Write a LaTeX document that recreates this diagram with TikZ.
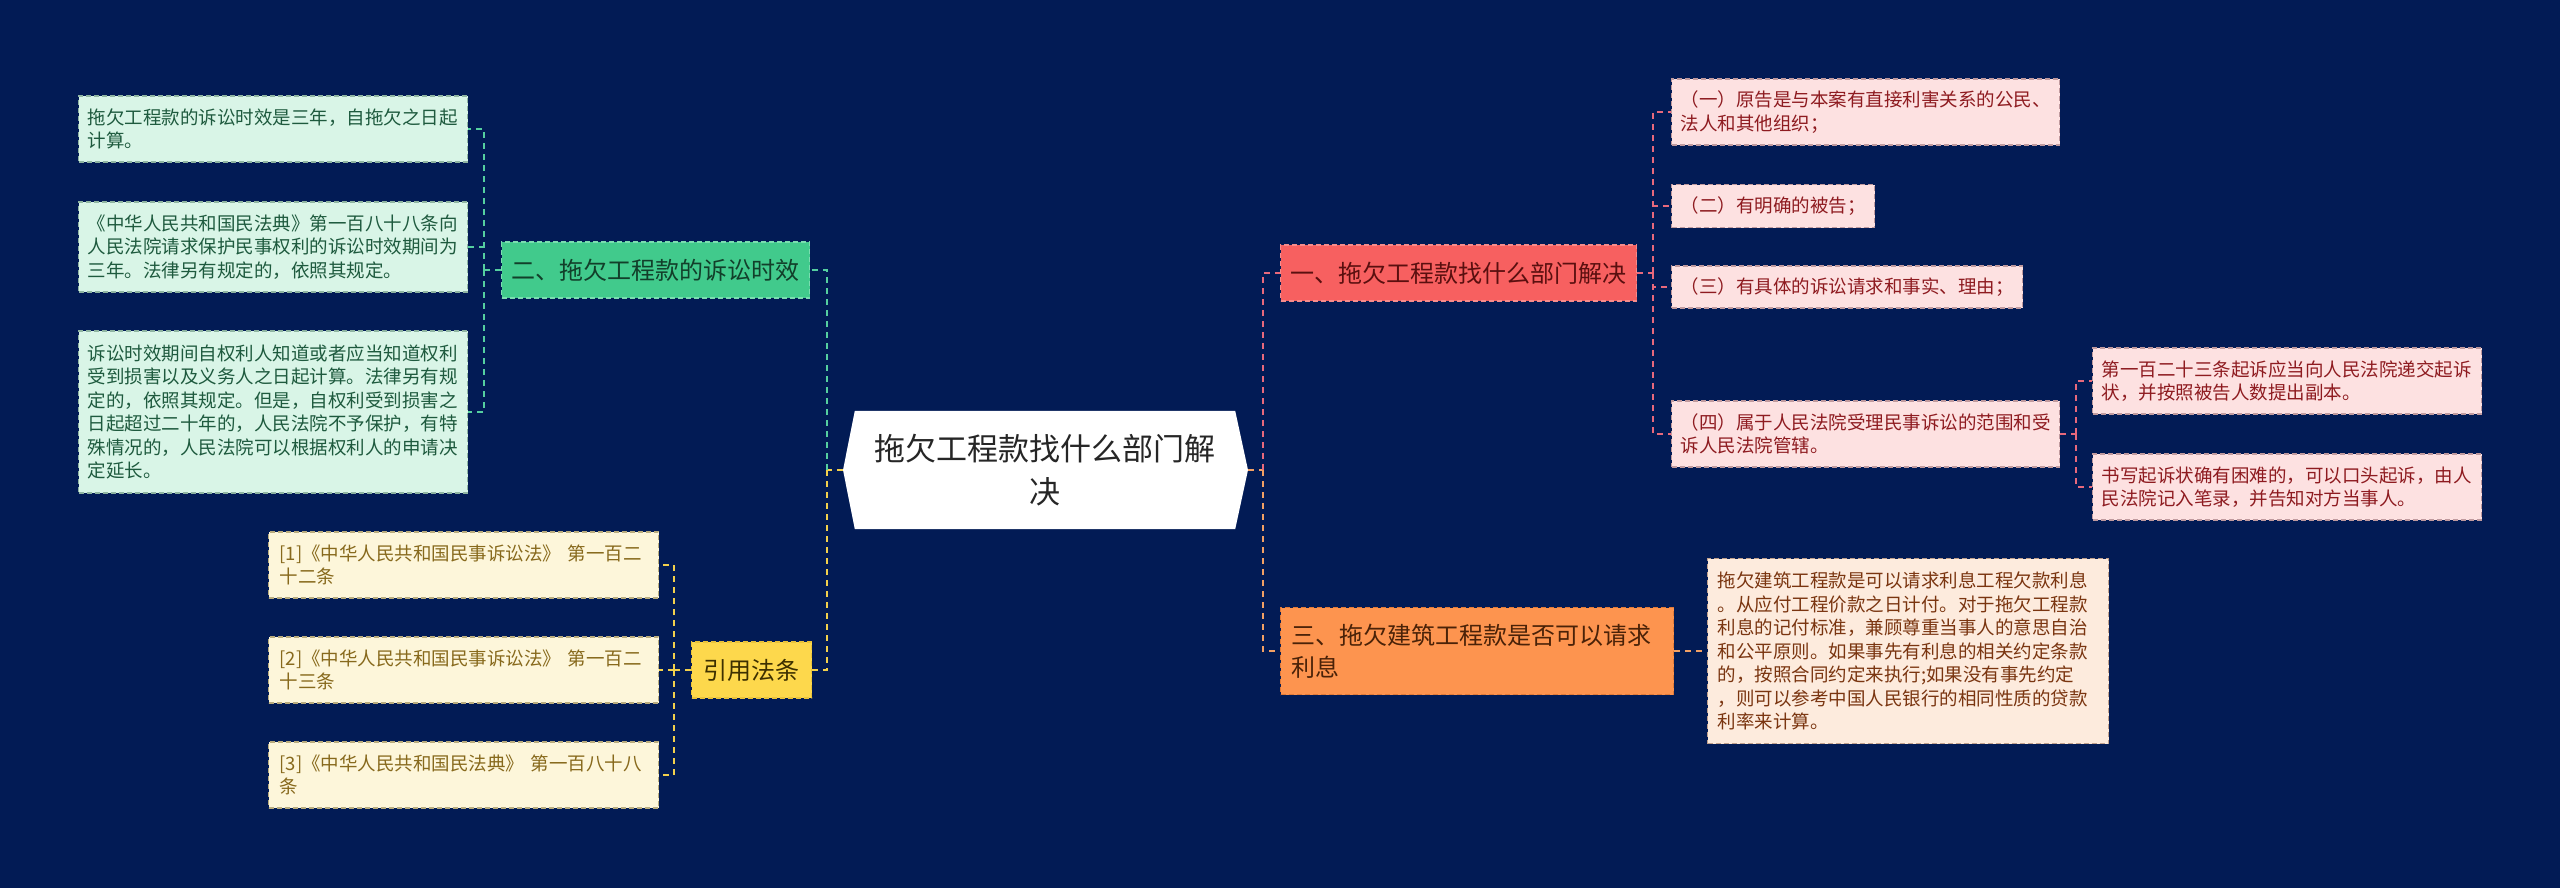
\documentclass[tikz,border=0pt]{standalone}
\usepackage{fontspec}
\setmainfont{Noto Sans CJK SC}
\usetikzlibrary{backgrounds,calc}
\definecolor{bgc}{HTML}{021B55}
\definecolor{gLine}{HTML}{55CFA0}
\definecolor{yLine}{HTML}{F2D04C}
\definecolor{pLine}{HTML}{E8697C}
\definecolor{oLine}{HTML}{F2A064}
\definecolor{gFill}{HTML}{41CA8C}
\definecolor{gDraw}{HTML}{7ADDB0}
\definecolor{gText}{HTML}{123F2A}
\definecolor{yFill}{HTML}{FDD84C}
\definecolor{yDraw}{HTML}{E9C23A}
\definecolor{yText}{HTML}{3D3000}
\definecolor{rFill}{HTML}{F76060}
\definecolor{rDraw}{HTML}{F58C8C}
\definecolor{rText}{HTML}{5A0F0F}
\definecolor{oFill}{HTML}{FD944F}
\definecolor{oDraw}{HTML}{E07A38}
\definecolor{oText}{HTML}{4A2208}
\definecolor{lgFill}{HTML}{D9F5E7}
\definecolor{lgDraw}{HTML}{8FB5A2}
\definecolor{lgText}{HTML}{1E5A3E}
\definecolor{lyFill}{HTML}{FDF6DA}
\definecolor{lyDraw}{HTML}{B9AC7E}
\definecolor{lyText}{HTML}{87691C}
\definecolor{lpFill}{HTML}{FDE1E1}
\definecolor{lpDraw}{HTML}{C09A9E}
\definecolor{lpText}{HTML}{8E1B20}
\definecolor{loFill}{HTML}{FDEBDD}
\definecolor{loDraw}{HTML}{C0A08C}
\definecolor{loText}{HTML}{7A3510}
\tikzset{
  conn/.style={line width=2pt, dash pattern=on 6pt off 5pt},
  lineG/.style={conn, draw=gLine},
  lineY/.style={conn, draw=yLine},
  lineP/.style={conn, draw=pLine},
  lineO/.style={conn, draw=oLine},
  boxbase/.style={anchor=west, line width=1.4pt, dash pattern=on 5pt off 3pt, inner ysep=0pt, align=left},
  branch/.style={boxbase, inner xsep=10pt, minimum height=56pt, font=\fontsize{24}{32}\selectfont},
  leaf/.style={boxbase, inner xsep=9pt, font=\fontsize{18.5}{23.5}\selectfont},
  leafG/.style={leaf, fill=lgFill, draw=lgDraw, text=lgText},
  leafY/.style={leaf, fill=lyFill, draw=lyDraw, text=lyText},
  leafP/.style={leaf, fill=lpFill, draw=lpDraw, text=lpText},
  leafO/.style={leaf, fill=loFill, draw=loDraw, text=loText},
  centerbox/.style={align=center, inner sep=0pt, minimum width=380pt, minimum height=118pt,
    text=black!85, font=\fontsize{31}{43}\selectfont},
}
\begin{document}
\begin{tikzpicture}[x=1pt,y=-1pt]
\useasboundingbox (0,0) rectangle (2560,888);

% center
\node[centerbox] (c) at (1045,470) {拖欠工程款找什么部门解\\决};
\coordinate (cw) at (843,470);
\coordinate (ce) at (1248,470);
\begin{scope}[on background layer]
\fill[bgc] (0,0) rectangle (2560,888);
\fill[white] (c.north west) -- (c.north east) -- (ce) -- (c.south east) -- (c.south west) -- (cw) -- cycle;
\end{scope}

% left branches
\node[branch, fill=gFill, draw=gDraw, text=gText] (n2) at (501,270) {二、拖欠工程款的诉讼时效};
\node[branch, inner xsep=12pt, fill=yFill, draw=yDraw, text=yText] (cite) at (691,670) {引用法条};

\node[leafG, text width=371pt, minimum height=66pt] (l1) at (78,129) {拖欠工程款的诉讼时效是三年，自拖欠之日起\\计算。};
\node[leafG, text width=371pt, minimum height=90pt] (l2) at (78,247) {《中华人民共和国民法典》第一百八十八条向\\人民法院请求保护民事权利的诉讼时效期间为\\三年。法律另有规定的，依照其规定。};
\node[leafG, text width=371pt, minimum height=162pt] (l3) at (78,412) {诉讼时效期间自权利人知道或者应当知道权利\\受到损害以及义务人之日起计算。法律另有规\\定的，依照其规定。但是，自权利受到损害之\\日起超过二十年的，人民法院不予保护，有特\\殊情况的，人民法院可以根据权利人的申请决\\定延长。};

\node[leafY, inner xsep=11pt, text width=368pt, minimum height=66pt] (r1) at (268,565) {[1]《中华人民共和国民事诉讼法》 第一百二\\十二条};
\node[leafY, inner xsep=11pt, text width=368pt, minimum height=66pt] (r2) at (268,670) {[2]《中华人民共和国民事诉讼法》 第一百二\\十三条};
\node[leafY, inner xsep=11pt, text width=368pt, minimum height=66pt] (r3) at (268,775) {[3]《中华人民共和国民法典》 第一百八十八\\条};

% right branches
\node[branch, fill=rFill, draw=rDraw, text=rText] (n1) at (1280,273) {一、拖欠工程款找什么部门解决};
\node[branch, inner xsep=11pt, text width=371pt, minimum height=87pt, fill=oFill, draw=oDraw, text=oText] (n3) at (1280,651) {三、拖欠建筑工程款是否可以请求\\利息};

\node[leafP, text width=370pt, minimum height=66pt] (p1) at (1671,112) {（一）原告是与本案有直接利害关系的公民、\\法人和其他组织；};
\node[leafP, minimum height=43pt] (p2) at (1671,206) {（二）有明确的被告；};
\node[leafP, minimum height=42pt] (p3) at (1671,287) {（三）有具体的诉讼请求和事实、理由；};
\node[leafP, text width=370pt, minimum height=66pt] (p4) at (1671,434) {（四）属于人民法院受理民事诉讼的范围和受\\诉人民法院管辖。};

\node[leafP, text width=371pt, minimum height=66pt] (q1) at (2092,381) {第一百二十三条起诉应当向人民法院递交起诉\\状，并按照被告人数提出副本。};
\node[leafP, text width=371pt, minimum height=66pt] (q2) at (2092,487) {书写起诉状确有困难的，可以口头起诉，由人\\民法院记入笔录，并告知对方当事人。};

\node[leafO, inner xsep=10pt, text width=381pt, minimum height=185pt] (s1) at (1707,651) {拖欠建筑工程款是可以请求利息工程欠款利息\\。从应付工程价款之日计付。对于拖欠工程款\\利息的记付标准，兼顾尊重当事人的意思自治\\和公平原则。如果事先有利息的相关约定条款\\的，按照合同约定来执行;如果没有事先约定\\，则可以参考中国人民银行的相同性质的贷款\\利率来计算。};

% junction coordinates
\coordinate (jl) at (827,470);
\coordinate (jr) at (1263,470);
\coordinate (j2) at (484,270);
\coordinate (jc) at (674,670);
\coordinate (j1) at (1653,273);
\coordinate (j4) at (2076,434);

% connectors
\draw[lineY] (cw) -- (jl);
\draw[lineG] (jl) |- (n2.east);
\draw[lineY] (jl) |- (cite.east);
\draw[lineO] (ce) -- (jr);
\draw[lineP] (jr) |- (n1.west);
\draw[lineO] (jr) |- (n3.west);

\draw[lineG] (n2.west) -- (j2);
\draw[lineG] (j2) |- (l1.east);
\draw[lineG] (j2) |- (l2.east);
\draw[lineG] (j2) |- (l3.east);

\draw[lineY] (cite.west) -- (jc);
\draw[lineY] (jc) |- (r1.east);
\draw[lineY] (jc) |- (r2.east);
\draw[lineY] (jc) |- (r3.east);

\draw[lineP] (n1.east) -- (j1);
\draw[lineP] (j1) |- (p1.west);
\draw[lineP] (j1) |- (p2.west);
\draw[lineP] (j1) |- (p3.west);
\draw[lineP] (j1) |- (p4.west);

\draw[lineP] (p4.east) -- (j4);
\draw[lineP] (j4) |- (q1.west);
\draw[lineP] (j4) |- (q2.west);

\draw[lineO] (n3.east) -- (s1.west);
\end{tikzpicture}
\end{document}
